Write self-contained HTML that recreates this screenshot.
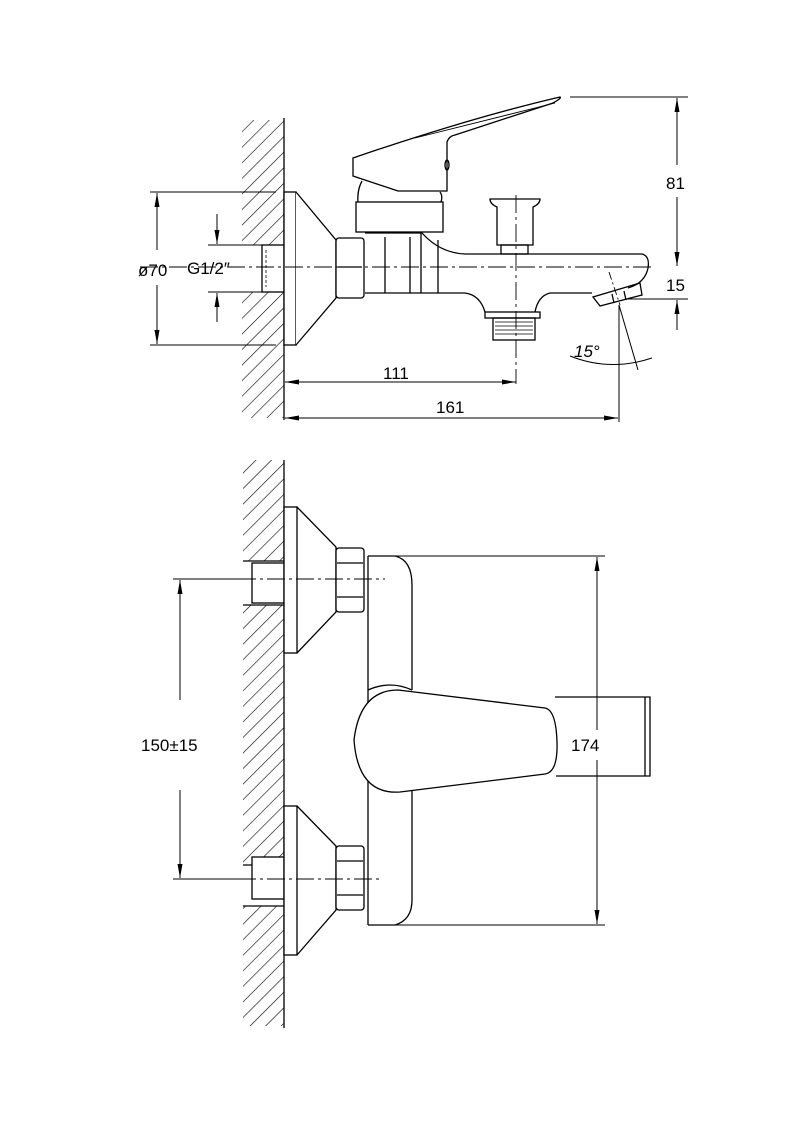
<!DOCTYPE html>
<html><head><meta charset="utf-8"><style>
html,body{margin:0;padding:0;background:#fff}
svg{display:block}
text{font-family:"Liberation Sans",sans-serif;fill:#000}
</style></head><body>
<svg width="800" height="1132" viewBox="0 0 800 1132" xmlns="http://www.w3.org/2000/svg">
<defs>
<pattern id="h" width="11" height="11" patternUnits="userSpaceOnUse" patternTransform="rotate(45)">
<line x1="0" y1="0" x2="0" y2="11" stroke="#000" stroke-width="1.2"/>
</pattern>
<marker id="a" viewBox="0 0 14 6" refX="14" refY="3" markerWidth="14" markerHeight="6" markerUnits="userSpaceOnUse" orient="auto-start-reverse"><path d="M0,0.5 L14,3 L0,5.5 z" fill="#000"/></marker>
</defs>
<g fill="none" stroke="#000" stroke-width="1.3">
<!-- TOP VIEW -->
<rect x="242" y="120" width="42" height="125" fill="url(#h)" stroke="none"/>
<rect x="242" y="292" width="42" height="126" fill="url(#h)" stroke="none"/>
<line x1="284" y1="118" x2="284" y2="420"/>
<rect x="262" y="245" width="22" height="47" fill="#fff"/>
<line x1="266" y1="250" x2="266" y2="287" stroke-dasharray="3,2" stroke-width="0.8"/>
<rect x="284" y="192" width="12" height="153" fill="#fff"/>
<path d="M296,192 L336,240 L336,298 L296,345" fill="#fff"/>
<rect x="336" y="238" width="28" height="60" rx="3" fill="#fff"/>
<line x1="338" y1="267" x2="362" y2="267"/>
<!-- handle -->
<path d="M353,158 L353,176 L398,191 L447,191 L447,142 Q449,136 455,135 L553,103 Q562,98 560,97 Q470,118 353,158 Z" fill="#fff"/>
<line x1="415" y1="138" x2="555" y2="103" stroke-width="0.9"/>
<ellipse cx="447" cy="165" rx="2" ry="5"/>
<path d="M362,181 Q357,190 358,202 M440,192 Q443,196 441,202"/>
<rect x="356" y="202" width="87" height="30" fill="#fff"/>
<!-- body -->
<path d="M365,233 L422,233 Q440,253 465,254 L642,254 Q650,256 648,268 Q645,283 628,288 M365,293 L465,293"/>
<line x1="385" y1="237" x2="385" y2="293"/>
<line x1="410" y1="237" x2="410" y2="293"/>
<line x1="421" y1="233" x2="421" y2="293"/>
<line x1="438" y1="240" x2="438" y2="293"/>
<path d="M465,293 Q480,295 485,312 M550,293 Q538,296 535,312 M550,293 L592,293"/>
<rect x="485" y="312" width="55" height="6"/>
<rect x="493" y="318" width="42" height="22"/>
<g stroke-width="0.8"><line x1="495" y1="322" x2="533" y2="322"/><line x1="495" y1="326" x2="533" y2="326"/><line x1="495" y1="330" x2="533" y2="330"/><line x1="495" y1="334" x2="533" y2="334"/></g>
<path d="M490,199 L540,199 Q540,204 533,207 L533,245 L497,245 L497,207 Q490,204 490,199 Z"/>
<rect x="501" y="245" width="27" height="9"/>
<path d="M593,297 L600,306 L642,295 L640,283 Z"/>
<line x1="612" y1="294" x2="614" y2="303"/><line x1="624" y1="291" x2="626" y2="300"/>
<!-- centerlines -->
<line x1="140" y1="267" x2="655" y2="267" stroke-width="0.9" stroke-dasharray="18,4,3,4"/>
<line x1="516" y1="195" x2="516" y2="384" stroke-width="0.9" stroke-dasharray="18,4,3,4"/>
<line x1="609" y1="272" x2="620" y2="305" stroke-width="0.9" stroke-dasharray="8,3,2,3"/>
<!-- dims top -->
<line x1="150" y1="192" x2="276" y2="192" stroke-width="1"/>
<line x1="150" y1="345" x2="276" y2="345" stroke-width="1"/>
<line x1="157" y1="250" x2="157" y2="193" marker-end="url(#a)" stroke-width="1"/>
<line x1="157" y1="285" x2="157" y2="344" marker-end="url(#a)" stroke-width="1"/>
<line x1="208" y1="245" x2="262" y2="245" stroke-width="1"/>
<line x1="208" y1="292" x2="262" y2="292" stroke-width="1"/>
<line x1="217" y1="214" x2="217" y2="244" marker-end="url(#a)" stroke-width="1"/>
<line x1="217" y1="322" x2="217" y2="293" marker-end="url(#a)" stroke-width="1"/>
<line x1="570" y1="97" x2="688" y2="97" stroke-width="1"/>
<line x1="677" y1="165" x2="677" y2="98" marker-end="url(#a)" stroke-width="1"/>
<line x1="677" y1="197" x2="677" y2="266" marker-end="url(#a)" stroke-width="1"/>
<line x1="628" y1="299" x2="688" y2="299" stroke-width="1"/>
<line x1="677" y1="330" x2="677" y2="300" marker-end="url(#a)" stroke-width="1"/>
<line x1="516" y1="382" x2="285" y2="382" marker-start="url(#a)" marker-end="url(#a)" stroke-width="1"/>
<line x1="285" y1="418" x2="618" y2="418" marker-start="url(#a)" marker-end="url(#a)" stroke-width="1"/>
<line x1="619" y1="305" x2="619" y2="422" stroke-width="1"/>
<line x1="619" y1="305" x2="638" y2="370" stroke-width="1"/>
<path d="M570,356 Q610,372 652,358" stroke-width="1"/>
<!-- BOTTOM VIEW -->
<rect x="243" y="460" width="41" height="101" fill="url(#h)" stroke="none"/>
<rect x="243" y="605" width="41" height="260" fill="url(#h)" stroke="none"/>
<rect x="243" y="906" width="41" height="120" fill="url(#h)" stroke="none"/>
<line x1="284" y1="460" x2="284" y2="1028"/>
<line x1="243" y1="561" x2="284" y2="561"/><line x1="243" y1="605" x2="284" y2="605"/>
<line x1="243" y1="865" x2="284" y2="865"/><line x1="243" y1="906" x2="284" y2="906"/>
<rect x="252" y="563" width="32" height="40" fill="#fff"/>
<rect x="252" y="857" width="32" height="42" fill="#fff"/>
<rect x="284" y="507" width="13" height="146" fill="#fff"/>
<path d="M297,507 L336,547 L336,612 L297,653"/>
<rect x="284" y="806" width="13" height="149" fill="#fff"/>
<path d="M297,806 L336,846 L336,910 L297,955"/>
<rect x="336" y="548" width="28" height="64" rx="3" fill="#fff"/>
<line x1="337" y1="563" x2="363" y2="563"/><line x1="337" y1="597" x2="363" y2="597"/>
<rect x="336" y="846" width="28" height="64" rx="3" fill="#fff"/>
<line x1="337" y1="861" x2="363" y2="861"/><line x1="337" y1="895" x2="363" y2="895"/>
<path d="M368,556 L395,556 Q412,560 412,585 L412,690"/>
<path d="M412,772 L412,900 Q412,920 395,925 L368,925"/>
<line x1="368" y1="556" x2="368" y2="925"/>
<path d="M368,690 Q390,680 412,690 M368,775 Q390,790 412,772"/>
<path d="M398,690 Q360,690 354,740 Q358,795 400,792 L545,774 Q558,772 557,742 Q556,710 545,708 Z" fill="#fff"/>
<path d="M555,697 L650,697 L650,776 L556,776 M645,697 L645,776"/>
<line x1="395" y1="556" x2="605" y2="556" stroke-width="1"/>
<line x1="395" y1="925" x2="605" y2="925" stroke-width="1"/>
<line x1="597" y1="730" x2="597" y2="557" marker-end="url(#a)" stroke-width="1"/>
<line x1="597" y1="760" x2="597" y2="924" marker-end="url(#a)" stroke-width="1"/>
<line x1="173" y1="579" x2="245" y2="579" stroke-width="1"/>
<line x1="173" y1="879" x2="245" y2="879" stroke-width="1"/>
<line x1="180" y1="700" x2="180" y2="580" marker-end="url(#a)" stroke-width="1"/>
<line x1="180" y1="790" x2="180" y2="878" marker-end="url(#a)" stroke-width="1"/>
<line x1="238" y1="579" x2="385" y2="579" stroke-width="0.9" stroke-dasharray="18,4,3,4"/>
<line x1="238" y1="879" x2="380" y2="879" stroke-width="0.9" stroke-dasharray="18,4,3,4"/>
</g>
<text x="138" y="276" font-size="17">ø70</text>
<text x="187" y="274" font-size="17">G1/2″</text>
<text x="666" y="189" font-size="17">81</text>
<text x="666" y="291" font-size="17">15</text>
<text x="383" y="379" font-size="17">111</text>
<text x="436" y="413" font-size="17">161</text>
<text x="574" y="357" font-size="17" font-style="italic">15°</text>
<text x="141" y="751" font-size="17">150±15</text>
<text x="571" y="751" font-size="17">174</text>
</svg>
</body></html>
